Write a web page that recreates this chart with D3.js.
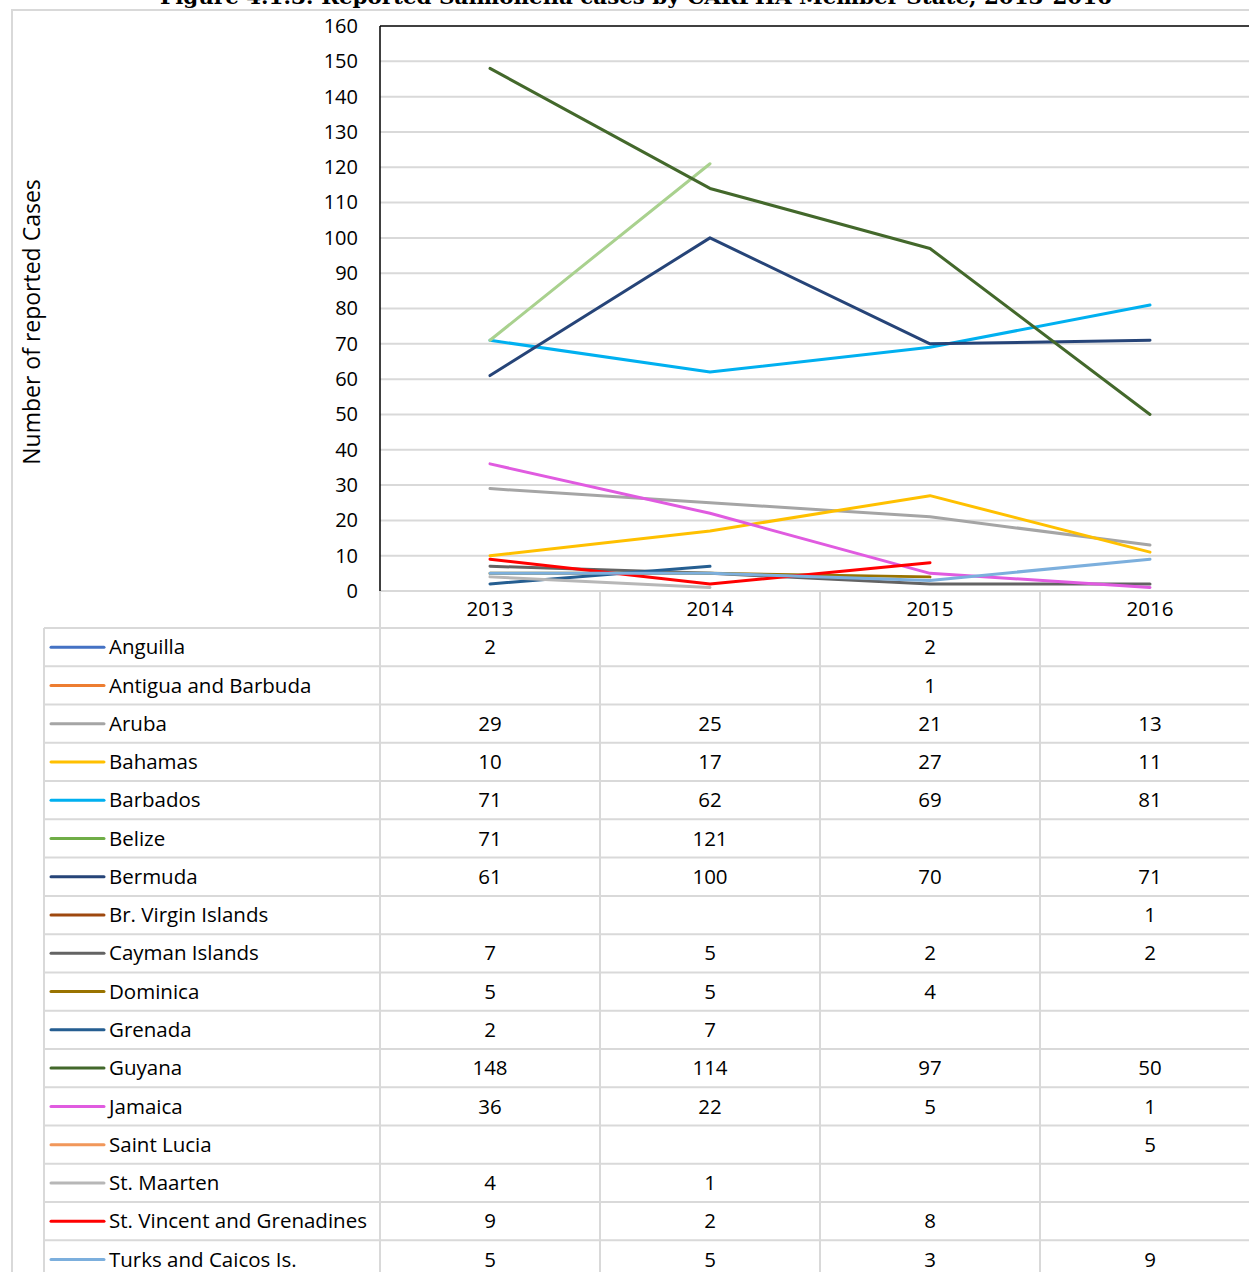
<!DOCTYPE html>
<html>
<head>
<meta charset="utf-8">
<script src="https://cdn.jsdelivr.net/npm/d3@7"></script>
<style>
  body { margin: 0; background: #fff; }
  svg text { font-family: "Open Sans", "Liberation Sans", sans-serif; fill: #000; }
</style>
</head>
<body>
<svg id="chart" width="1249" height="1272"></svg>
<script>
// Chart data
const years = ["2013", "2014", "2015", "2016"];
const countries = ["Anguilla", "Antigua and Barbuda", "Aruba", "Bahamas", "Barbados", "Belize",
  "Bermuda", "Br. Virgin Islands", "Cayman Islands", "Dominica", "Grenada", "Guyana",
  "Jamaica", "Saint Lucia", "St. Maarten", "St. Vincent and Grenadines", "Turks and Caicos Is."];
const cases = [
  [2, null, 2, null],
  [null, null, 1, null],
  [29, 25, 21, 13],
  [10, 17, 27, 11],
  [71, 62, 69, 81],
  [71, 121, null, null],
  [61, 100, 70, 71],
  [null, null, null, 1],
  [7, 5, 2, 2],
  [5, 5, 4, null],
  [2, 7, null, null],
  [148, 114, 97, 50],
  [36, 22, 5, 1],
  [null, null, null, 5],
  [4, 1, null, null],
  [9, 2, 8, null],
  [5, 5, 3, 9]
];
const legendColors = ["#4472C4", "#ED7D31", "#A5A5A5", "#FFC000", "#00B0F0", "#70AD47",
  "#264478", "#9E480E", "#636363", "#997300", "#255E91", "#43682B",
  "#E05BE0", "#F1975A", "#B7B7B7", "#FF0000", "#7CAFDD"];
// Belize is drawn lighter in the plot than its legend key
const lineColors = legendColors.map((c, i) => countries[i] === "Belize" ? "#A9D18E" : c);
const yTicks = d3.range(0, 161, 10);

const svg = d3.select("#chart");
const gridColor = "#d9d9d9";
const fs = "20.5px";

const plotLeft = 380, colW = 220, plotTop = 26, plotBottom = 591;
const x = d3.scaleBand().domain(years).range([plotLeft, plotLeft + colW * years.length]);
const y = d3.scaleLinear().domain([0, 160]).range([plotBottom, plotTop]);

// outer frame
svg.append("rect").attr("x", 12).attr("y", 10).attr("width", 1300).attr("height", 1300)
  .attr("fill", "none").attr("stroke", gridColor).attr("stroke-width", 2);

// title (cut off at the top of the image, as in the source)
svg.append("text").attr("x", 636).attr("y", 4).attr("text-anchor", "middle")
  .attr("textLength", 952).attr("lengthAdjust", "spacingAndGlyphs")
  .style("font-family", "'DejaVu Serif', serif").style("font-weight", "bold").style("font-size", "20px")
  .text("Figure 4.1.3: Reported Salmonella cases by CARPHA Member State, 2013-2016");

// gridlines
svg.append("g").selectAll("line").data(yTicks.filter(t => t < 160)).join("line")
  .attr("x1", plotLeft).attr("x2", 1249)
  .attr("y1", d => y(d)).attr("y2", d => y(d))
  .attr("stroke", gridColor).attr("stroke-width", 2);

// y axis
const yAxis = svg.append("g").attr("transform", `translate(${plotLeft},0)`)
  .call(d3.axisLeft(y).tickValues(yTicks).tickSize(0).tickPadding(22));
yAxis.select(".domain").remove();
yAxis.selectAll("text").style("font-size", "20px").attr("fill", "#000");

svg.append("line").attr("x1", plotLeft).attr("x2", plotLeft).attr("y1", plotTop).attr("y2", plotBottom)
  .attr("stroke", "#000").attr("stroke-width", 1.5);
svg.append("line").attr("x1", plotLeft).attr("x2", 1249).attr("y1", plotTop).attr("y2", plotTop)
  .attr("stroke", "#000").attr("stroke-width", 1.5);

// y axis title
svg.append("text").attr("transform", "translate(40,322) rotate(-90)")
  .attr("text-anchor", "middle").style("font-size", "23px").text("Number of reported Cases");

// lines, split at gaps; lone points are not drawn
const line = d3.line().x(d => x(d.year) + x.bandwidth() / 2).y(d => y(d.v));
countries.forEach((c, i) => {
  const runs = [];
  let cur = [];
  cases[i].forEach((v, j) => {
    if (v == null) { if (cur.length) runs.push(cur); cur = []; }
    else cur.push({ year: years[j], v });
  });
  if (cur.length) runs.push(cur);
  runs.filter(r => r.length > 1).forEach(r => {
    svg.append("path").attr("d", line(r)).attr("fill", "none")
      .attr("stroke", lineColors[i]).attr("stroke-width", 3)
      .attr("stroke-linejoin", "round").attr("stroke-linecap", "round");
  });
});

// data table
const tableLeft = 44, headTop = plotBottom, rowTop = 628, rowH = 38.27;
const tbl = svg.append("g");
// year header
tbl.selectAll("text.year").data(years).join("text").attr("class", "year")
  .attr("x", d => x(d) + x.bandwidth() / 2).attr("y", 609).attr("dy", "0.35em")
  .attr("text-anchor", "middle").style("font-size", fs).text(d => d);

// vertical lines
tbl.selectAll("line.v").data(years.slice(1)).join("line").attr("class", "v")
  .attr("x1", d => x(d)).attr("x2", d => x(d)).attr("y1", headTop).attr("y2", 1272)
  .attr("stroke", gridColor).attr("stroke-width", 2);
tbl.append("line").attr("x1", plotLeft).attr("x2", plotLeft).attr("y1", plotBottom).attr("y2", 1272)
  .attr("stroke", gridColor).attr("stroke-width", 2);
tbl.append("line").attr("x1", tableLeft).attr("x2", tableLeft).attr("y1", rowTop).attr("y2", 1272)
  .attr("stroke", gridColor).attr("stroke-width", 2);

// horizontal lines
tbl.selectAll("line.h").data(d3.range(countries.length + 1)).join("line").attr("class", "h")
  .attr("x1", tableLeft).attr("x2", 1249)
  .attr("y1", d => rowTop + d * rowH).attr("y2", d => rowTop + d * rowH)
  .attr("stroke", gridColor).attr("stroke-width", 2);

const rows = tbl.selectAll("g.row").data(countries).join("g").attr("class", "row")
  .attr("transform", (d, i) => `translate(0,${rowTop + i * rowH + rowH / 2})`);
rows.append("line").attr("x1", 51).attr("x2", 104).attr("y1", 0).attr("y2", 0)
  .attr("stroke", (d, i) => legendColors[i]).attr("stroke-width", 3).attr("stroke-linecap", "round");
rows.append("text").attr("x", 109).attr("dy", "0.35em").style("font-size", fs).text(d => d);
rows.each(function (d, i) {
  d3.select(this).selectAll("text.val").data(cases[i]).join("text").attr("class", "val")
    .attr("x", (v, j) => x(years[j]) + x.bandwidth() / 2).attr("dy", "0.35em")
    .attr("text-anchor", "middle").style("font-size", fs)
    .text(v => v == null ? "" : v);
});
</script>
</body>
</html>
